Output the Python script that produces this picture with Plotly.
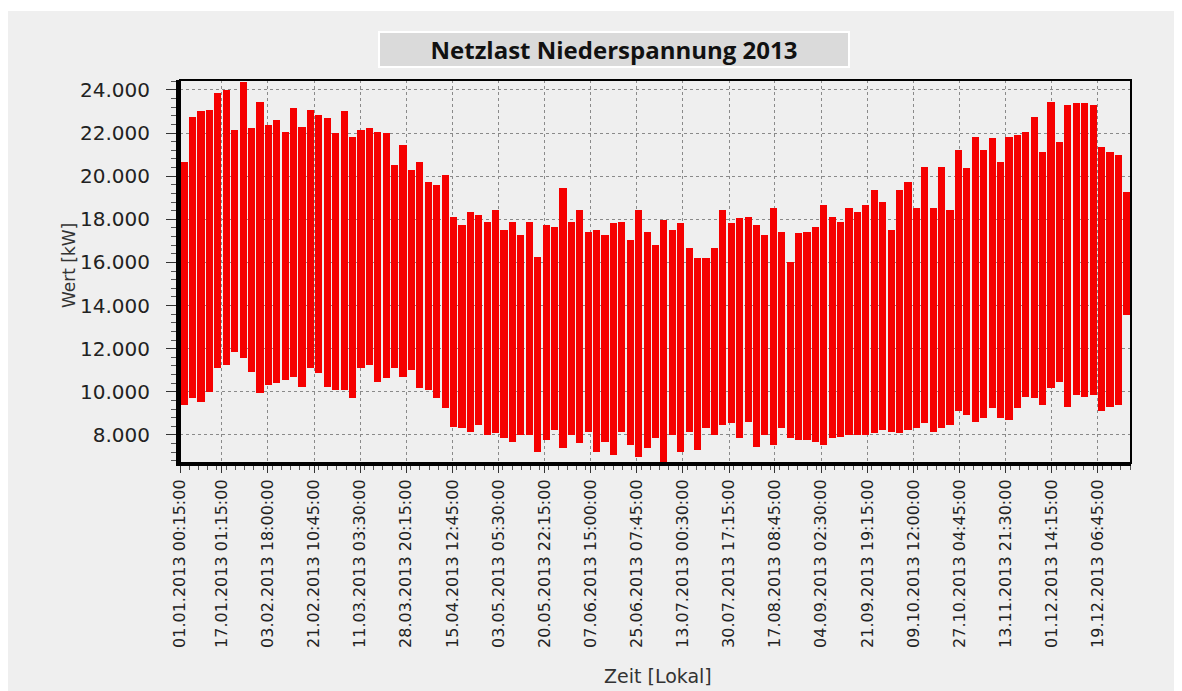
import pandas as pd
import plotly.graph_objects as go

# Tagesgang-Hüllkurve (obere / untere Werte je Streifen), in kW
oben = [20680, 22760, 23000, 23070, 23850, 24000, 22150, 24380, 22220, 23460,
        22380, 22610, 22070, 23150, 22300, 23070, 22840, 22690, 21990, 23000,
        21840, 22150, 22220, 22070, 21990, 20520, 21450, 20290, 20680, 19750,
        19590, 20060, 18130, 17740, 18360, 18200, 17890, 18430, 17510, 17890,
        17270, 17890, 16270, 17740, 17660, 19440, 17890, 18430, 17430, 17510,
        17270, 17820, 17890, 17040, 18430, 17430, 16810, 17970, 17510, 17820,
        16660, 16190, 16190, 16660, 18430, 17820, 18050, 18130, 17740, 17270,
        18510, 17430, 16040, 17350, 17430, 17660, 18670, 18130, 17890, 18510,
        18360, 18670, 19360, 18820, 17510, 19360, 19750, 18510, 20440, 18510,
        20440, 18430, 21220, 20370, 21840, 21220, 21760, 20680, 21840, 21920,
        22070, 22760, 21140, 23460, 21600, 23300, 23380, 23380, 23300, 21370,
        21140, 20990, 19280]
unten = [9390, 9700, 9540, 10010, 11090, 11250, 11860, 11550, 10930, 9930,
         10320, 10400, 10550, 10700, 10240, 11090, 10860, 10240, 10090, 10090,
         9730, 11090, 11250, 10470, 10630, 11090, 10700, 11010, 10160, 10090,
         9700, 9240, 8380, 8310, 8150, 8460, 7990, 8070, 7840, 7690,
         7990, 7990, 7230, 7770, 8230, 7380, 7990, 7610, 8150, 7230,
         7690, 7070, 8150, 7540, 7000, 7380, 7840, 6680, 7990, 7230,
         8150, 7310, 8310, 7990, 8460, 8540, 7840, 8610, 7460, 7990,
         7540, 8310, 7840, 7770, 7770, 7690, 7540, 7840, 7920, 7990,
         7990, 7990, 8070, 8230, 8150, 8070, 8230, 8310, 8540, 8150,
         8310, 8460, 9090, 8930, 8610, 8770, 9240, 8770, 8690, 9240,
         9780, 9700, 9390, 10160, 10470, 9320, 9860, 9780, 9860, 9090,
         9320, 9390, 13560]

tick_labels = ["01.01.2013 00:15:00", "17.01.2013 01:15:00", "03.02.2013 18:00:00",
               "21.02.2013 10:45:00", "11.03.2013 03:30:00", "28.03.2013 20:15:00",
               "15.04.2013 12:45:00", "03.05.2013 05:30:00", "20.05.2013 22:15:00",
               "07.06.2013 15:00:00", "25.06.2013 07:45:00", "13.07.2013 00:30:00",
               "30.07.2013 17:15:00", "17.08.2013 08:45:00", "04.09.2013 02:30:00",
               "21.09.2013 19:15:00", "09.10.2013 12:00:00", "27.10.2013 04:45:00",
               "13.11.2013 21:30:00", "01.12.2013 14:15:00", "19.12.2013 06:45:00"]
tick_dates = pd.to_datetime(tick_labels, format="%d.%m.%Y %H:%M:%S")

start = pd.Timestamp("2013-01-01 00:15")
ende = pd.Timestamp("2014-01-01 00:00")

# Streifen gleichmäßig über das Jahr verteilt
kanten = pd.date_range(start, ende, periods=len(oben) + 1)
schritt = kanten[1] - kanten[0]
mitten = kanten[:-1] + schritt / 2
breite_ms = schritt.total_seconds() * 1000 * 0.85

fig = go.Figure()
fig.add_trace(go.Bar(
    x=mitten,
    y=[o - u for o, u in zip(oben, unten)],
    base=unten,
    width=breite_ms,
    marker=dict(color="#f50000", line=dict(width=0)),
    hoverinfo="skip",
))

# Seite hat 8px Rand, daher Figur 1174x683 mit Plotfläche 172..1123 / 72..455
L, T, W, H = 172, 72, 951, 383
def px(x):
    return (x - L) / W
def py(y):
    return (T + H - y) / H

grau = "#efefef"
fig.update_layout(
    width=1174, height=683,
    margin=dict(l=172, r=51, t=72, b=228),
    paper_bgcolor=grau,
    plot_bgcolor=grau,
    separators=",.",
    showlegend=False,
    font=dict(family="DejaVu Sans", color="#222222"),
    shapes=[
        # weißer Streifen oben
        dict(type="rect", xref="paper", yref="paper", layer="below",
             x0=px(0), x1=px(1174), y0=py(3), y1=py(0),
             fillcolor="white", line=dict(width=0)),
        # Rahmen oben/rechts
        dict(type="rect", xref="paper", yref="paper", layer="above",
             x0=0, x1=1, y0=0, y1=1, line=dict(color="black", width=2)),
    ],
    annotations=[
        dict(text="<b>Netzlast Niederspannung 2013</b>", xref="paper", yref="paper",
             x=px(606), y=py(41.5), xanchor="center", yanchor="middle",
             showarrow=False, bgcolor="#dadada", bordercolor="white", borderwidth=2,
             width=468, height=33, borderpad=0,
             font=dict(family="Open Sans", size=24, color="#111111")),
        dict(text="Wert [kW]", xref="paper", yref="paper",
             x=px(61), y=py(258), textangle=-90,
             xanchor="center", yanchor="middle", showarrow=False,
             font=dict(size=17, color="#333333")),
        dict(text="Zeit [Lokal]", xref="paper", yref="paper",
             x=px(650), y=py(668), xanchor="center", yanchor="middle",
             showarrow=False, font=dict(size=19, color="#333333")),
    ],
    bargap=0,
)

fig.update_xaxes(
    type="date",
    range=[start, ende],
    tickmode="array",
    tickvals=tick_dates,
    ticktext=tick_labels,
    tickangle=-90,
    tickfont=dict(size=16, color="#222222"),
    ticks="outside", ticklen=7, tickcolor="#333333",
    minor=dict(ticks="outside", ticklen=4, tickcolor="#555555",
               dtick=86400000 * 3.54, tick0=start, showgrid=False),
    showline=True, linecolor="black", linewidth=3,
    showgrid=True, gridcolor="#8a8a8a", griddash="dot", gridwidth=1,
    zeroline=False,
)
fig.update_yaxes(
    range=[6700, 24460],
    tickmode="linear", tick0=8000, dtick=2000,
    tickformat=",.0f",
    tickfont=dict(size=20, color="#222222"),
    ticks="outside", ticklen=10, tickcolor="#333333",
    ticklabelstandoff=12,
    minor=dict(ticks="outside", ticklen=5, tickcolor="#555555", dtick=400, showgrid=False),
    showline=True, linecolor="black", linewidth=4,
    showgrid=True, gridcolor="#8a8a8a", griddash="dot", gridwidth=1,
    zeroline=False,
)

fig.write_html("out.html")
